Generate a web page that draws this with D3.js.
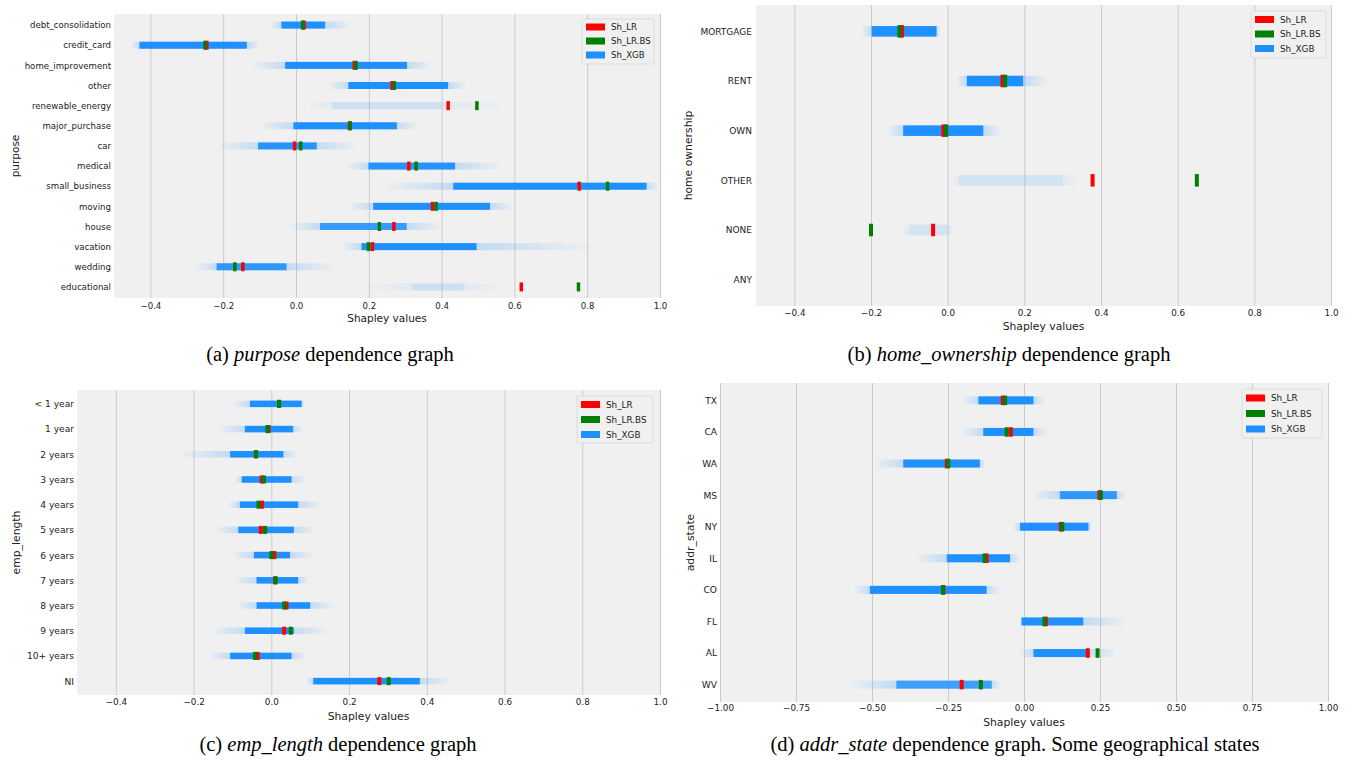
<!DOCTYPE html>
<html><head><meta charset="utf-8">
<script src="https://cdn.jsdelivr.net/npm/d3@7"></script>
<style>
body{margin:0;background:#fff}
svg text{font-family:"DejaVu Sans",sans-serif;fill:#222}
svg text.cap{font-family:"Liberation Serif","Times New Roman",serif;fill:#000}
</style>
</head><body>
<svg id="chart" width="1349" height="774"></svg>
<script>
// ---------------- DATA ----------------
const legendLabels = ["Sh_LR", "Sh_LR.BS", "Sh_XGB"];

// (a) purpose
const purposeCats = ["debt_consolidation","credit_card","home_improvement","other","renewable_energy","major_purchase","car","medical","small_business","moving","house","vacation","wedding","educational"];
const purposeLR   = [0.022,-0.245,0.160,0.264,0.418,0.147,-0.004,0.310,0.778,0.375,0.269,0.210,-0.146,0.619];
const purposeLRBS = [0.018,-0.250,0.165,0.270,0.497,0.149,0.013,0.330,0.856,0.385,0.229,0.199,-0.168,0.776];
const purposeCore = [[-0.04,0.08],[-0.43,-0.135],[-0.03,0.305],[0.144,0.418],[0.10,0.40],[-0.007,0.277],[-0.104,0.057],[0.199,0.437],[0.432,0.963],[0.212,0.533],[0.066,0.304],[0.18,0.496],[-0.218,-0.026],[0.32,0.46]];
const purposeTail = [[-0.07,0.15],[-0.45,-0.10],[-0.118,0.368],[0.09,0.464],[0.04,0.56],[-0.094,0.33],[-0.209,0.162],[0.139,0.56],[0.25,0.995],[0.148,0.593],[-0.016,0.396],[0.13,0.808],[-0.273,0.10],[0.203,0.551]];
const purposeDensity = [1,1,1,1,0.1,1,0.95,0.95,1,1,0.85,1,0.9,0.1];

// (b) home_ownership
const homeCats = ["MORTGAGE","RENT","OWN","OTHER","NONE","ANY"];
const homeLR   = [-0.119,0.143,-0.011,0.378,-0.038,null];
const homeLRBS = [-0.126,0.150,-0.004,0.650,-0.200,null];
const homeCore = [[-0.198,-0.029],[0.05,0.197],[-0.116,0.093],[0.03,0.30],[-0.10,0.0],null];
const homeTail = [[-0.224,-0.02],[0.024,0.259],[-0.155,0.137],[0.015,0.337],[-0.116,0.015],null];
const homeDensity = [1,1,1,0.07,0.07,0];

// (c) emp_length
const empCats = ["< 1 year","1 year","2 years","3 years","4 years","5 years","6 years","7 years","8 years","9 years","10+ years","NI"];
const empLR   = [0.020,-0.007,-0.040,-0.025,-0.024,-0.027,0.008,0.010,0.039,0.033,-0.035,0.278];
const empLRBS = [0.020,-0.010,-0.039,-0.019,-0.033,-0.016,0.000,0.011,0.033,0.050,-0.042,0.302];
const empCore = [[-0.055,0.078],[-0.068,0.056],[-0.106,0.031],[-0.076,0.052],[-0.081,0.069],[-0.085,0.058],[-0.045,0.048],[-0.038,0.069],[-0.038,0.10],[-0.068,0.058],[-0.106,0.052],[0.108,0.382]];
const empTail = [[-0.098,0.085],[-0.132,0.08],[-0.231,0.065],[-0.092,0.085],[-0.11,0.125],[-0.14,0.11],[-0.098,0.104],[-0.092,0.095],[-0.085,0.159],[-0.149,0.142],[-0.158,0.09],[0.091,0.46]];
const empDensity = [1,1,1,1,1,1,1,1,1,1,1,1];

// (d) addr_state
const stateCats = ["TX","CA","WA","MS","NY","IL","CO","FL","AL","WV"];
const stateLR   = [-0.070,-0.043,-0.254,0.248,0.121,-0.123,-0.265,0.072,0.210,-0.205];
const stateLRBS = [-0.062,-0.057,-0.249,0.253,0.126,-0.130,-0.267,0.067,0.242,-0.142];
const stateCore = [[-0.15,0.031],[-0.134,0.031],[-0.397,-0.145],[0.118,0.305],[-0.013,0.212],[-0.254,-0.046],[-0.507,-0.123],[-0.008,0.195],[0.031,0.212],[-0.42,-0.106]];
const stateTail = [[-0.2,0.069],[-0.2,0.075],[-0.485,-0.128],[0.03,0.332],[-0.035,0.223],[-0.353,-0.013],[-0.556,-0.079],[-0.013,0.332],[-0.013,0.299],[-0.572,-0.079]];
const stateDensity = [1,1,1,0.9,1,1,1,1,1,0.8];

// ticks
const ticksA = [-0.4,-0.2,0,0.2,0.4,0.6,0.8,1.0];
const ticksD = [-1,-0.75,-0.5,-0.25,0,0.25,0.5,0.75,1];

// ---------------- STYLE / LAYOUT ----------------
const COL_LR = "#ff0000", COL_BS = "#008000", COL_XGB = "#1e90ff";
const svg = d3.select("#chart");
const defs = svg.append("defs");
let gradId = 0;

function panel(cfg) {
  const g = svg.append("g");
  const x = d3.scaleLinear().domain(cfg.domain).range([cfg.x0, cfg.x1]);
  const y = d3.scalePoint().domain(cfg.cats).range([cfg.y0, cfg.y1]).padding(cfg.pad);

  g.append("rect").attr("x", cfg.x0).attr("y", cfg.y0)
    .attr("width", cfg.x1 - cfg.x0).attr("height", cfg.y1 - cfg.y0).attr("fill", "#f0f0f0");

  const xa = g.append("g").attr("transform", `translate(0,${cfg.y1})`)
    .call(d3.axisBottom(x).tickValues(cfg.ticks).tickFormat(d3.format(cfg.fmt))
      .tickSizeInner(-(cfg.y1 - cfg.y0)).tickSizeOuter(0).tickPadding(cfg.tpad));
  xa.select(".domain").remove();
  xa.selectAll("line").attr("stroke", "#cbcbcb").attr("stroke-width", 1);
  xa.selectAll("text").attr("font-size", cfg.tfs).attr("fill", "#333");

  const ya = g.append("g").attr("transform", `translate(${cfg.x0},0)`)
    .call(d3.axisLeft(y).tickSize(0).tickPadding(cfg.x0 - cfg.labR));
  ya.select(".domain").remove();
  ya.selectAll("text").attr("font-size", cfg.cfs).attr("fill", "#222");

  g.append("text").attr("x", (cfg.x0 + cfg.x1) / 2).attr("y", cfg.xlabY)
    .attr("text-anchor", "middle").attr("font-size", cfg.lfs).text("Shapley values");
  g.append("text").attr("transform", `translate(${cfg.ylabX},${(cfg.y0 + cfg.y1) / 2}) rotate(-90)`)
    .attr("text-anchor", "middle").attr("font-size", cfg.lfs).text(cfg.ylabel);

  const rows = cfg.cats.map((c, i) => ({c, lr: cfg.lr[i], bs: cfg.bs[i], core: cfg.core[i], tail: cfg.tail[i], den: cfg.den[i]}));

  // XGB tails (sparse spread, fading out)
  rows.filter(r => r.tail).forEach(r => {
    const id = "gr" + (gradId++);
    const t0 = x(r.tail[0]), t1 = x(r.tail[1]);
    const o0 = (x(r.core[0]) - t0) / (t1 - t0), o1 = (x(r.core[1]) - t0) / (t1 - t0);
    const peak = r.den >= 0.5 ? 0.22 : 0.07;
    const lg = defs.append("linearGradient").attr("id", id).attr("gradientUnits", "userSpaceOnUse")
      .attr("x1", t0).attr("x2", t1).attr("y1", 0).attr("y2", 0);
    [[0, 0.02], [o0, peak], [o1, peak], [1, 0.02]].forEach(([o, op]) =>
      lg.append("stop").attr("offset", Math.max(0, Math.min(1, o))).attr("stop-color", COL_XGB).attr("stop-opacity", op));
    g.append("rect").attr("x", t0).attr("width", t1 - t0)
      .attr("y", y(r.c) - cfg.band * 0.5).attr("height", cfg.band)
      .attr("fill", `url(#${id})`);
  });
  // XGB dense core
  g.selectAll(".core").data(rows.filter(r => r.core)).join("rect")
    .attr("x", d => x(d.core[0])).attr("width", d => x(d.core[1]) - x(d.core[0]))
    .attr("y", d => y(d.c) - cfg.band / 2).attr("height", cfg.band)
    .attr("fill", COL_XGB).attr("fill-opacity", d => d.den);

  // LR & LR.BS markers
  [["lr", COL_LR], ["bs", COL_BS]].forEach(([k, col]) => {
    g.selectAll(".m" + k).data(rows.filter(r => r[k] != null)).join("rect")
      .attr("x", d => x(d[k]) - cfg.mw / 2).attr("width", cfg.mw)
      .attr("y", d => y(d.c) - cfg.mh / 2).attr("height", cfg.mh)
      .attr("fill", col);
  });

  // legend
  const L = cfg.leg;
  const lg = g.append("g").attr("transform", `translate(${L.x},${L.y})`);
  lg.append("rect").attr("width", L.w).attr("height", L.h).attr("rx", 2)
    .attr("fill", "#f0f0f0").attr("stroke", "#d6d6d6").attr("stroke-width", 0.8);
  const legCols = [COL_LR, COL_BS, COL_XGB];
  legendLabels.forEach((lab, i) => {
    const cy = L.first + i * L.step;
    lg.append("rect").attr("x", 4).attr("y", cy - 3.5).attr("width", 19).attr("height", 7).attr("fill", legCols[i]);
    lg.append("text").attr("x", 29).attr("y", cy).attr("dy", "0.35em").attr("font-size", cfg.legfs).text(lab);
  });

  // caption
  const cap = svg.append("text").attr("class", "cap").attr("x", cfg.capX).attr("y", cfg.capY)
    .attr("text-anchor", "middle").attr("font-size", 20.5);
  cap.append("tspan").text(cfg.capPre + " ");
  cap.append("tspan").attr("font-style", "italic").text(cfg.capIt);
  cap.append("tspan").text(" " + cfg.capPost);
}

panel({cats: purposeCats, lr: purposeLR, bs: purposeLRBS, core: purposeCore, tail: purposeTail, den: purposeDensity,
  domain: [-0.5, 1], ticks: ticksA, fmt: ".1f",
  x0: 114, x1: 660, y0: 14, y1: 298, pad: 0.55, tpad: 5, labR: 111,
  tfs: 8.6, cfs: 8.6, lfs: 10.5, legfs: 8.6, xlabY: 322, ylabX: 19, ylabel: "purpose",
  band: 7, mh: 9, mw: 3.5,
  leg: {x: 582, y: 19, w: 72, h: 45, first: 8, step: 14},
  capX: 330, capY: 361, capPre: "(a)", capIt: "purpose", capPost: "dependence graph"});

panel({cats: homeCats, lr: homeLR, bs: homeLRBS, core: homeCore, tail: homeTail, den: homeDensity,
  domain: [-0.5, 1], ticks: ticksA, fmt: ".1f",
  x0: 756, x1: 1331, y0: 5, y1: 306, pad: 0.53, tpad: 3.5, labR: 752,
  tfs: 8.8, cfs: 9, lfs: 10.8, legfs: 8.8, xlabY: 330, ylabX: 692, ylabel: "home ownership",
  band: 10.5, mh: 12.5, mw: 4,
  leg: {x: 1251, y: 11, w: 75, h: 47, first: 8.5, step: 14.5},
  capX: 1009, capY: 361, capPre: "(b)", capIt: "home_ownership", capPost: "dependence graph"});

panel({cats: empCats, lr: empLR, bs: empLRBS, core: empCore, tail: empTail, den: empDensity,
  domain: [-0.5, 1], ticks: ticksA, fmt: ".1f",
  x0: 77, x1: 660, y0: 390, y1: 695, pad: 0.55, tpad: 3.5, labR: 74,
  tfs: 8.8, cfs: 9.1, lfs: 10.8, legfs: 8.8, xlabY: 720, ylabX: 20, ylabel: "emp_length",
  band: 6.5, mh: 8, mw: 4,
  leg: {x: 577, y: 396, w: 76, h: 47, first: 8.5, step: 15},
  capX: 338, capY: 751, capPre: "(c)", capIt: "emp_length", capPost: "dependence graph"});

panel({cats: stateCats, lr: stateLR, bs: stateLRBS, core: stateCore, tail: stateTail, den: stateDensity,
  domain: [-1, 1], ticks: ticksD, fmt: ".2f",
  x0: 720, x1: 1328, y0: 383, y1: 702, pad: 0.55, tpad: 3, labR: 717,
  tfs: 8.8, cfs: 9.1, lfs: 10.8, legfs: 8.8, xlabY: 726, ylabX: 694, ylabel: "addr_state",
  band: 8, mh: 9.5, mw: 4,
  leg: {x: 1242, y: 389, w: 80, h: 49, first: 9, step: 15.5},
  capX: 1015, capY: 751, capPre: "(d)", capIt: "addr_state", capPost: "dependence graph. Some geographical states"});
</script>
</body></html>
